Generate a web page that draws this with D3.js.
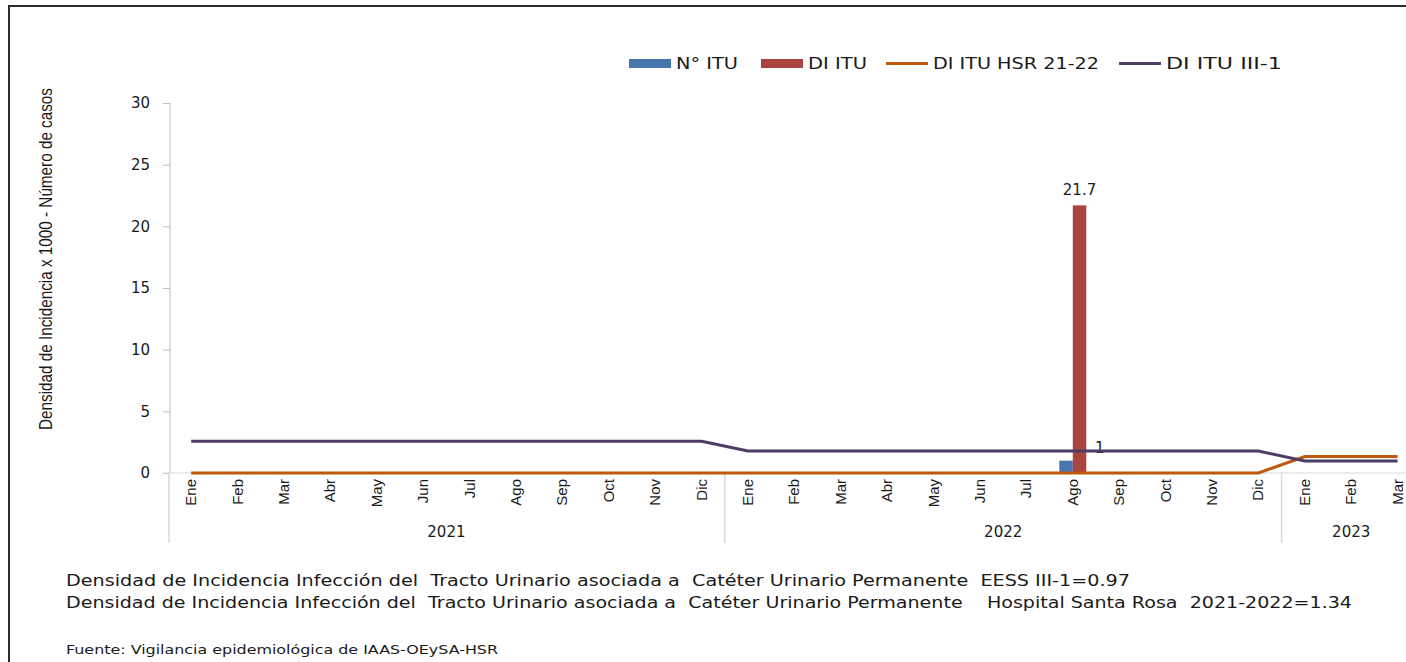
<!DOCTYPE html>
<html lang="es">
<head>
  <meta charset="UTF-8">
  <title>Densidad de Incidencia ITU</title>
  <script src="https://d3js.org/d3.v7.min.js"></script>
  <style>
    body { margin: 0; background: #fff; overflow: hidden; }
    text { font-family: "DejaVu Sans", Verdana, sans-serif; fill: #1a1a1a; }
    .month { font-family: "Liberation Sans", Arial, sans-serif; font-size: 15px; }
    .legend text { font-size: 15px; }
    .note { font-size: 15px; }
  </style>
</head>
<body>
  <script>
    // data
    const months = ["Ene","Feb","Mar","Abr","May","Jun","Jul","Ago","Sep","Oct","Nov","Dic",
                    "Ene","Feb","Mar","Abr","May","Jun","Jul","Ago","Sep","Oct","Nov","Dic",
                    "Ene","Feb","Mar"];
    const years = [
      { year: "2021", start: 0, end: 12 },
      { year: "2022", start: 12, end: 24 },
      { year: "2023", start: 24, end: 27 }
    ];
    const nItu = [0,0,0,0,0,0,0,0,0,0,0,0, 0,0,0,0,0,0,0,1,0,0,0,0, 0,0,0];
    const diItu = [0,0,0,0,0,0,0,0,0,0,0,0, 0,0,0,0,0,0,0,21.7,0,0,0,0, 0,0,0];
    const diHsr = [0,0,0,0,0,0,0,0,0,0,0,0, 0,0,0,0,0,0,0,0,0,0,0,0, 1.34,1.34,1.34];
    const diIII = [2.57,2.57,2.57,2.57,2.57,2.57,2.57,2.57,2.57,2.57,2.57,2.57,
                   1.78,1.78,1.78,1.78,1.78,1.78,1.78,1.78,1.78,1.78,1.78,1.78,
                   0.97,0.97,0.97];
    const yTicks = [0, 5, 10, 15, 20, 25, 30];

    const colors = { n: "#4676AE", di: "#A9443F", hsr: "#C0590E", iii: "#4E3B66" };

    const W = 1406, H = 662;
    const svg = d3.select("body").append("svg")
      .attr("width", W).attr("height", H);

    // outer frame (only top and left visible)
    svg.append("path")
      .attr("d", `M9,${H} L9,6 L${W},6`)
      .attr("fill", "none").attr("stroke", "#2b2b2b").attr("stroke-width", 2);

    const idx = d3.range(months.length);
    const x = d3.scaleBand().domain(idx).range([168, 168 + 27 * 46.4]);
    const y = d3.scaleLinear().domain([0, 30]).range([473, 103]);
    const bw = x.bandwidth();
    const cx = i => x(i) + bw / 2;

    // y axis
    const yAxis = svg.append("g")
      .attr("transform", "translate(170,0)")
      .call(d3.axisLeft(y).tickValues(yTicks).tickSize(7).tickPadding(13));
    yAxis.select(".domain").attr("stroke", "#BFBFBF").attr("d", `M0,${y(30)}V${y(0)}`);
    yAxis.selectAll(".tick line").attr("stroke", "#BFBFBF");
    yAxis.selectAll(".tick text").attr("fill", "#1a1a1a")
      .style("font-family", "'DejaVu Sans', Verdana, sans-serif").style("font-size", "15px");

    // x axis baseline
    svg.append("line")
      .attr("x1", 163).attr("x2", W).attr("y1", y(0)).attr("y2", y(0))
      .attr("stroke", "#D9D9D9").attr("stroke-width", 1);

    // year group separators
    const seps = [0, 12, 24];
    svg.selectAll(".sep").data(seps).enter().append("line")
      .attr("x1", d => x(d) + (d === 0 ? 1 : 0)).attr("x2", d => x(d) + (d === 0 ? 1 : 0))
      .attr("y1", y(0)).attr("y2", 543)
      .attr("stroke", "#D9D9D9").attr("stroke-width", 1.5);

    // month labels
    svg.selectAll(".month").data(idx).enter().append("text")
      .attr("class", "month")
      .attr("text-anchor", "end")
      .attr("transform", i => `translate(${cx(i) + 5},479) rotate(-90)`)
      .text(i => months[i]);

    // year labels
    svg.selectAll(".year").data(years).enter().append("text")
      .attr("x", d => (x(d.start) + x(d.end - 1) + bw) / 2)
      .attr("y", 537)
      .attr("text-anchor", "middle")
      .style("font-size", "15px")
      .text(d => d.year);

    // bars
    const inner = d3.scaleBand().domain(["n", "di"]).range([0, bw]).paddingOuter(0.72);
    const barData = [];
    idx.forEach(i => {
      barData.push({ i, key: "n", v: nItu[i] });
      barData.push({ i, key: "di", v: diItu[i] });
    });
    svg.selectAll(".bar").data(barData.filter(d => d.v > 0)).enter().append("rect")
      .attr("x", d => x(d.i) + inner(d.key))
      .attr("width", inner.bandwidth())
      .attr("y", d => y(d.v))
      .attr("height", d => y(0) - y(d.v))
      .attr("fill", d => colors[d.key]);

    // bar labels
    svg.selectAll(".blabel").data(barData.filter(d => d.v > 0)).enter().append("text")
      .attr("x", d => d.key === "di" ? x(d.i) + inner(d.key) + inner.bandwidth() / 2 : x(d.i) + bw - 1)
      .attr("y", d => d.key === "di" ? y(d.v) - 10 : y(d.v) - 8)
      .attr("text-anchor", d => d.key === "di" ? "middle" : "start")
      .style("font-size", "15px")
      .text(d => d.v);

    // lines
    const line = d3.line().x((d, i) => cx(i)).y(d => y(d));
    svg.append("path").datum(diHsr)
      .attr("d", line).attr("fill", "none")
      .attr("stroke", colors.hsr).attr("stroke-width", 3);
    svg.append("path").datum(diIII)
      .attr("d", line).attr("fill", "none")
      .attr("stroke", colors.iii).attr("stroke-width", 3);

    // y axis title
    svg.append("text")
      .attr("transform", "translate(52,259) rotate(-90)")
      .attr("text-anchor", "middle")
      .attr("textLength", 342).attr("lengthAdjust", "spacingAndGlyphs")
      .style("font-family", "'Liberation Sans', Arial, sans-serif")
      .style("font-size", "19px")
      .text("Densidad de Incidencia x 1000 - Número de casos");

    // legend
    const legend = [
      { label: "N° ITU", type: "rect", color: colors.n, x: 629, tw: 62 },
      { label: "DI ITU", type: "rect", color: colors.di, x: 761, tw: 59 },
      { label: "DI ITU HSR 21-22", type: "line", color: colors.hsr, x: 886, tw: 166 },
      { label: "DI ITU III-1", type: "line", color: colors.iii, x: 1119, tw: 116 }
    ];
    const lg = svg.append("g").attr("class", "legend");
    legend.forEach(d => {
      if (d.type === "rect") {
        lg.append("rect").attr("x", d.x).attr("y", 59).attr("width", 42).attr("height", 9)
          .attr("fill", d.color);
      } else {
        lg.append("line").attr("x1", d.x).attr("x2", d.x + 42).attr("y1", 63.5).attr("y2", 63.5)
          .attr("stroke", d.color).attr("stroke-width", 3);
      }
      lg.append("text").attr("x", d.x + 47).attr("y", 69)
        .attr("textLength", d.tw).attr("lengthAdjust", "spacingAndGlyphs")
        .text(d.label);
    });

    // notes
    svg.append("text").attr("class", "note").attr("x", 66).attr("y", 586)
      .attr("textLength", 1064).attr("lengthAdjust", "spacingAndGlyphs")
      .style("white-space", "pre")
      .text("Densidad de Incidencia Infección del  Tracto Urinario asociada a  Catéter Urinario Permanente  EESS III-1=0.97");
    svg.append("text").attr("class", "note").attr("x", 66).attr("y", 608)
      .attr("textLength", 1286).attr("lengthAdjust", "spacingAndGlyphs")
      .style("white-space", "pre")
      .text("Densidad de Incidencia Infección del  Tracto Urinario asociada a  Catéter Urinario Permanente    Hospital Santa Rosa  2021-2022=1.34");
    svg.append("text").attr("x", 66).attr("y", 654)
      .attr("textLength", 432).attr("lengthAdjust", "spacingAndGlyphs")
      .style("font-size", "12px")
      .text("Fuente: Vigilancia epidemiológica de IAAS-OEySA-HSR");
  </script>
</body>
</html>
